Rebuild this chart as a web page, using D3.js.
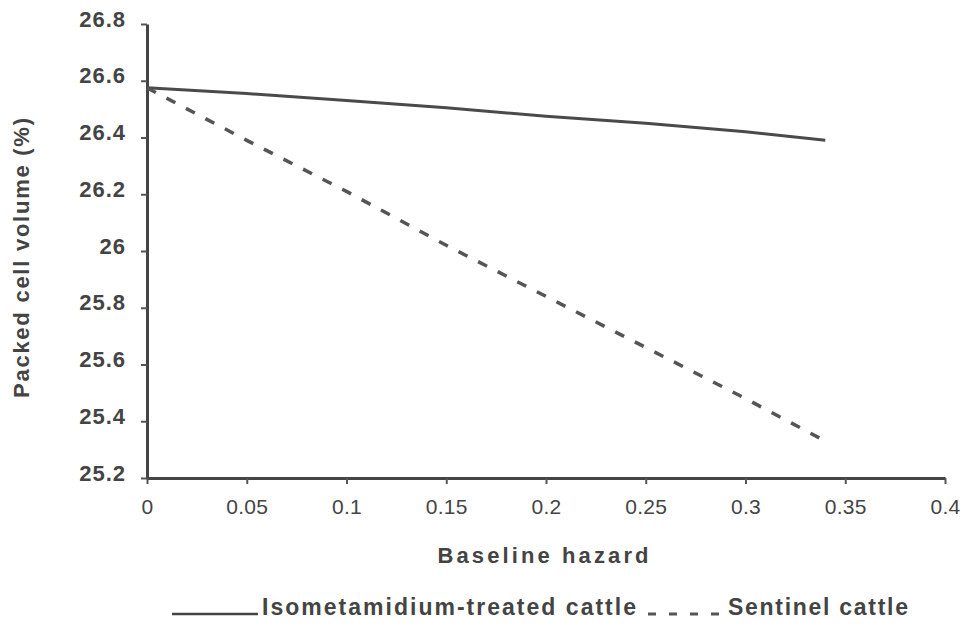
<!DOCTYPE html>
<html>
<head>
    <script src="https://cdn.jsdelivr.net/npm/d3@7"></script>
    <style>
        body { margin: 0; background: #fff; }
        text { font-family: "Liberation Sans", Arial, sans-serif; font-weight: bold; fill: #444; }
    </style>
</head>
<body>
<div id="chart"></div>

<script>

    // baseline hazard values
    var hazard = [0, 0.05, 0.1, 0.15, 0.2, 0.25, 0.3, 0.34];
    // packed cell volume
    var treated = [26.575, 26.555, 26.530, 26.505, 26.475, 26.45, 26.42, 26.39];
    var sentinel = [26.575, 26.39, 26.21, 26.02, 25.84, 25.66, 25.48, 25.33];

    var xTicks = [0, 0.05, 0.1, 0.15, 0.2, 0.25, 0.3, 0.35, 0.4];
    var yTicks = [25.2, 25.4, 25.6, 25.8, 26, 26.2, 26.4, 26.6, 26.8];

    var width = 967;
    var height = 629;
    var padding = { top: 24, right: 22, bottom: 151, left: 147 };
    var innerW = width - padding.left - padding.right;
    var innerH = height - padding.top - padding.bottom;

    var xScale = d3.scaleLinear()
        .domain([0, 0.4])
        .range([0, innerW]);

    var yScale = d3.scaleLinear()
        .domain([25.2, 26.8])
        .range([innerH, 0]);

    var svg = d3.select('#chart').append('svg')
        .attr('width', width)
        .attr('height', height);

    var g = svg.append('g')
        .attr('transform', 'translate(' + padding.left + ', ' + padding.top + ')');

    var yAxis = g.append('g')
        .call(d3.axisLeft(yScale).tickValues(yTicks).tickSize(6).tickSizeOuter(0)
            .tickFormat(function(d) { return d3.format('')(+d.toFixed(1)); }));

    var xAxis = g.append('g')
        .attr('transform', 'translate(0,' + innerH + ')')
        .call(d3.axisBottom(xScale).tickValues(xTicks).tickSize(6).tickSizeOuter(0)
            .tickFormat(function(d) { return d3.format('')(+d.toFixed(2)); }));

    [xAxis, yAxis].forEach(function(ax) {
        ax.attr('font-size', null);
        ax.select('.domain').attr('stroke', '#444').attr('stroke-width', 3);
        ax.selectAll('.tick line').attr('stroke', '#555').attr('stroke-width', 2);
        ax.selectAll('.tick text')
            .style('font-family', '"Liberation Sans", Arial, sans-serif')
            .style('font-weight', 'bold')
            .attr('fill', '#444');
    });

    yAxis.selectAll('.tick text')
        .style('font-size', '22px')
        .attr('x', -21)
        .attr('dy', '0.1em')
        .style('letter-spacing', '1px');

    xAxis.selectAll('.tick text')
        .style('font-size', '21px')
        .style('font-weight', 'normal')
        .attr('y', 21)
        .style('letter-spacing', '0.3px');

    var line = d3.line()
        .x(function(d) { return xScale(d[0]); })
        .y(function(d) { return yScale(d[1]); });

    g.append('path')
        .datum(hazard.map(function(h, i) { return [h, treated[i]]; }))
        .attr('fill', 'none')
        .attr('stroke', '#4a4a4a')
        .attr('stroke-width', 3)
        .attr('d', line);

    g.append('path')
        .datum(hazard.map(function(h, i) { return [h, sentinel[i]]; }))
        .attr('fill', 'none')
        .attr('stroke', '#555')
        .attr('stroke-width', 3.5)
        .attr('stroke-dasharray', '10,12')
        .attr('d', line);

    // axis titles
    svg.append('text')
        .attr('x', 543)
        .attr('y', 563)
        .attr('text-anchor', 'middle')
        .style('font-size', '22px')
        .attr('textLength', 211)
        .text('Baseline hazard');

    svg.append('text')
        .attr('transform', 'translate(29,258) rotate(-90)')
        .attr('text-anchor', 'middle')
        .style('font-size', '22px')
        .attr('textLength', 280)
        .text('Packed cell volume (%)');

    // legend
    var legend = svg.append('g');
    legend.append('line')
        .attr('x1', 172).attr('x2', 258)
        .attr('y1', 614).attr('y2', 614)
        .attr('stroke', '#444').attr('stroke-width', 2.5);
    legend.append('text')
        .attr('x', 262).attr('y', 615)
        .style('font-size', '23px')
        .attr('textLength', 374)
        .text('Isometamidium-treated cattle');
    legend.append('line')
        .attr('x1', 648).attr('x2', 722)
        .attr('y1', 614).attr('y2', 614)
        .attr('stroke', '#555').attr('stroke-width', 3)
        .attr('stroke-dasharray', '8,13');
    legend.append('text')
        .attr('x', 728).attr('y', 615)
        .style('font-size', '23px')
        .attr('textLength', 180)
        .text('Sentinel cattle');

</script>
</body>
</html>
